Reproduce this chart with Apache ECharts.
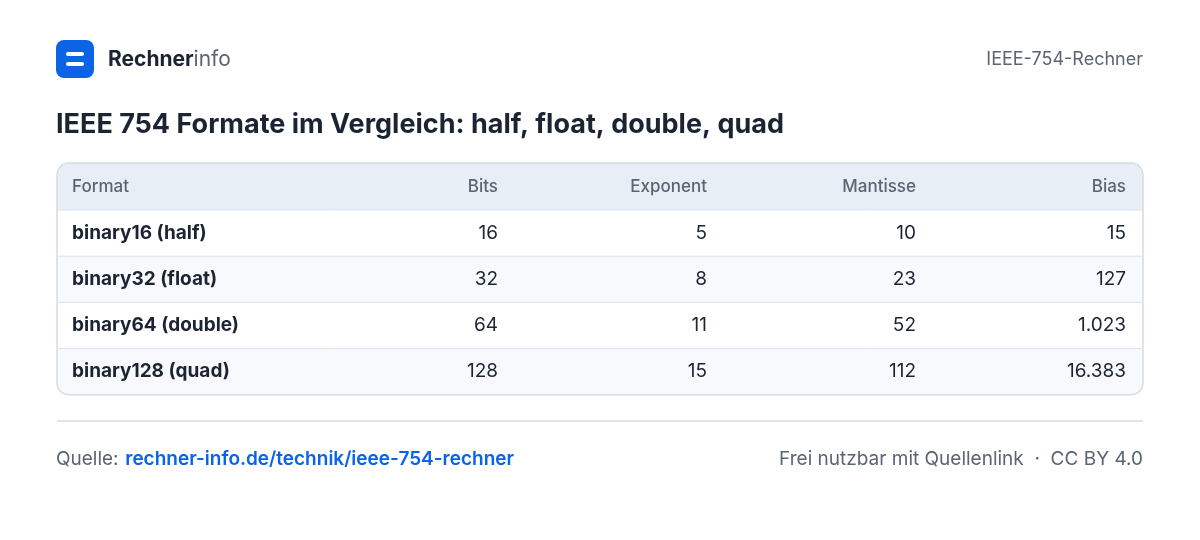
<!DOCTYPE html>
<html><head><meta charset="utf-8">
<script src="https://cdn.jsdelivr.net/npm/echarts@6/dist/echarts.min.js"></script>
<style>html,body{margin:0;background:#fff}#c{width:1200px;height:540px}</style>
</head><body><div id="c"></div>
<script>
var headers = ['Format', 'Bits', 'Exponent', 'Mantisse', 'Bias'];
var formats = ['binary16 (half)', 'binary32 (float)', 'binary64 (double)', 'binary128 (quad)'];
var bits = ['16', '32', '64', '128'];
var exponent = ['5', '8', '11', '15'];
var mantisse = ['10', '23', '52', '112'];
var bias = ['15', '127', '1.023', '16.383'];

var chart = echarts.init(document.getElementById('c'));
var F = 'Inter, "Noto Sans", sans-serif';
var colRight = [0, 498, 707, 916, 1126];
var top0 = 163, headH = 47, rowH = 46.2, left = 57, right = 1143;
var g = [];

// header block
g.push({type: 'image', style: {}}); // placeholder removed below
g.pop();
g.push({type: 'rect', shape: {x: 56, y: 40, width: 38, height: 38, r: 8}, style: {fill: '#0b63e5'}});
g.push({type: 'rect', shape: {x: 66, y: 52, width: 18, height: 4, r: 2}, style: {fill: '#fff'}});
g.push({type: 'rect', shape: {x: 66, y: 62, width: 18, height: 4, r: 2}, style: {fill: '#fff'}});
g.push({type: 'text', x: 108, y: 60, style: {text: '{a|Rechner}{b|info}', verticalAlign: 'middle',
  rich: {a: {fontFamily: F, fontSize: 21, fontWeight: 700, fill: '#1b2433'}, b: {fontFamily: F, fontSize: 21, fontWeight: 400, fill: '#5b6472'}}}});
g.push({type: 'text', x: 1143, y: 60, style: {text: 'IEEE-754-Rechner', align: 'right', verticalAlign: 'middle', fontFamily: F, fontSize: 18, fill: '#5b6472'}});
g.push({type: 'text', x: 56, y: 125, style: {text: 'IEEE 754 Formate im Vergleich: half, float, double, quad', verticalAlign: 'middle', fontFamily: F, fontSize: 27, fontWeight: 700, fill: '#1b2433'}});

var tableH = headH + rowH * formats.length;
// table frame + rows
g.push({type: 'rect', shape: {x: left, y: top0, width: right - left, height: tableH, r: 12}, style: {fill: '#fff'}});
g.push({type: 'rect', shape: {x: left, y: top0, width: right - left, height: headH, r: [12, 12, 0, 0]}, style: {fill: '#e8eef6'}});
formats.forEach(function (f, i) {
  var y = top0 + headH + i * rowH;
  if (i % 2 === 1) {
    var last = i === formats.length - 1;
    g.push({type: 'rect', shape: {x: left, y: y, width: right - left, height: rowH, r: last ? [0, 0, 12, 12] : 0}, style: {fill: '#f7f9fc'}});
  }
  g.push({type: 'line', shape: {x1: left, y1: y, x2: right, y2: y}, style: {stroke: '#dde3ec', lineWidth: 1}});
});
g.push({type: 'rect', shape: {x: left, y: top0, width: right - left, height: tableH, r: 12}, style: {fill: 'none', stroke: '#d5dce6', lineWidth: 1.5}});

headers.forEach(function (h, c) {
  g.push({type: 'text', x: c === 0 ? 72 : colRight[c], y: top0 + headH / 2, style: {text: h, align: c === 0 ? 'left' : 'right', verticalAlign: 'middle', fontFamily: F, fontSize: 17, fontWeight: 500, fill: '#5b6472'}});
});
var cols = [formats, bits, exponent, mantisse, bias];
formats.forEach(function (f, i) {
  var y = top0 + headH + i * rowH + rowH / 2;
  cols.forEach(function (col, c) {
    g.push({type: 'text', x: c === 0 ? 72 : colRight[c], y: y, style: {text: col[i], align: c === 0 ? 'left' : 'right', verticalAlign: 'middle', fontFamily: F, fontSize: 19, fontWeight: c === 0 ? 700 : 400, fill: '#1b2433'}});
  });
});

// footer
g.push({type: 'line', shape: {x1: 57, y1: 421, x2: 1143, y2: 421}, style: {stroke: '#d5dce6', lineWidth: 1.5}});
g.push({type: 'text', x: 56, y: 459, style: {text: '{a|Quelle:}  {b|rechner-info.de/technik/ieee-754-rechner}', verticalAlign: 'middle',
  rich: {a: {fontFamily: F, fontSize: 19, fill: '#5b6472'}, b: {fontFamily: F, fontSize: 19, fontWeight: 600, fill: '#0b63e5'}}}});
g.push({type: 'text', x: 1143, y: 459, style: {text: 'Frei nutzbar mit Quellenlink  ·  CC BY 4.0', align: 'right', verticalAlign: 'middle', fontFamily: F, fontSize: 19, fill: '#5b6472'}});

chart.setOption({backgroundColor: '#fff', animation: false, graphic: {elements: g}});
</script></body></html>
